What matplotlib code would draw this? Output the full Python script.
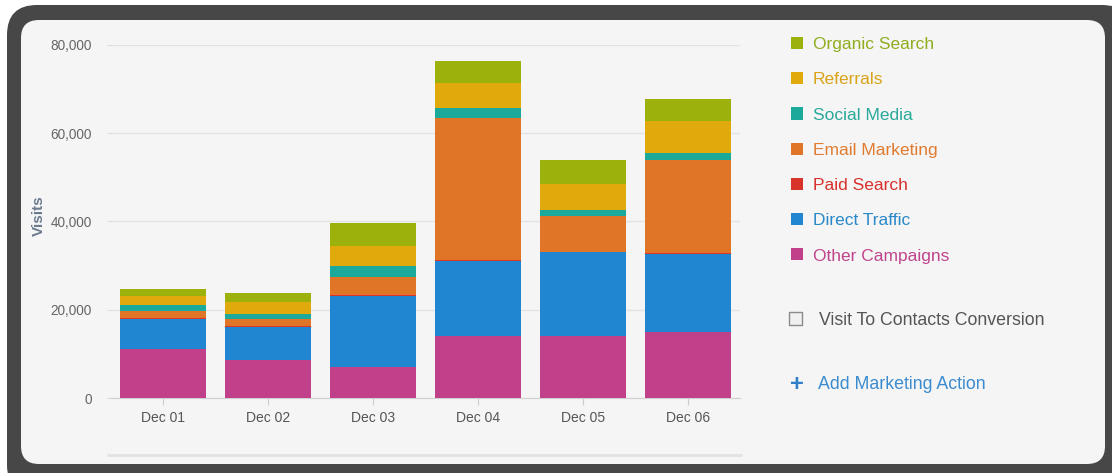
import numpy as np
import matplotlib.pyplot as plt
from matplotlib.patches import FancyBboxPatch, Rectangle

plt.rcParams['font.family'] = ['Liberation Sans', 'DejaVu Sans']

days = ['Dec 01', 'Dec 02', 'Dec 03', 'Dec 04', 'Dec 05', 'Dec 06']

# visits per channel, bottom to top of each stack
other_campaigns = [11000, 8500, 7000, 14000, 14000, 15000]
direct_traffic = [6900, 7600, 16200, 17100, 19000, 17600]
paid_search = [120, 120, 150, 180, 150, 150]
email_marketing = [1700, 1700, 4000, 32200, 8000, 21300]
social_media = [1250, 1200, 2600, 2200, 1450, 1500]
referrals = [2150, 2700, 4500, 5800, 6000, 7300]
organic_search = [1550, 1900, 5100, 4900, 5300, 4950]

series = [
    ('Other Campaigns', other_campaigns, '#c0418a', '#c0448c'),
    ('Direct Traffic', direct_traffic, '#2186d2', '#2a88c8'),
    ('Paid Search', paid_search, '#d8342a', '#d8302c'),
    ('Email Marketing', email_marketing, '#e07527', '#e07b30'),
    ('Social Media', social_media, '#1aa99a', '#2aa89a'),
    ('Referrals', referrals, '#e0a90c', '#d9a41a'),
    ('Organic Search', organic_search, '#9cb10b', '#8fae1f'),
]

W, H = 1112, 473
fig = plt.figure(figsize=(W / 100, H / 100), dpi=100)
fig.patch.set_facecolor('white')

# background / frame, drawn in pixel coordinates
bg = fig.add_axes([0, 0, 1, 1])
bg.set_xlim(0, W)
bg.set_ylim(H, 0)
bg.axis('off')
bg.add_patch(FancyBboxPatch((7, 5), 1125, 490, boxstyle='round,pad=0,rounding_size=30',
                            facecolor='#474747', edgecolor='none'))
bg.add_patch(FancyBboxPatch((21, 20), 1084, 444, boxstyle='round,pad=0,rounding_size=18',
                            facecolor='#f5f5f5', edgecolor='none'))
bg.plot([107, 742], [455, 455], color='#e2e2e2', lw=2, solid_capstyle='butt')

# checkbox and extra items
bg.add_patch(Rectangle((789, 312), 13, 13, facecolor='#f0f0f0', edgecolor='#8a8a8a', lw=1))
bg.text(819, 320, 'Visit To Contacts Conversion', color='#555555', fontsize=12.8, va='center')
bg.text(797, 384, '+', color='#2f80c8', fontsize=17, fontweight='bold', va='center', ha='center')
bg.text(818, 384, 'Add Marketing Action', color='#3b8bd0', fontsize=12.8, va='center')

ax = fig.add_axes([111 / W, (H - 398) / H, (740 - 111) / W, (398 - 45) / H])
ax.set_facecolor('none')

x = np.arange(len(days))
bottom = np.zeros(len(days))
handles = []
for name, vals, col, _ in series:
    b = ax.bar(x, vals, width=0.82, bottom=bottom, color=col, label=name, zorder=3)
    handles.append(b)
    bottom += np.array(vals)

ax.set_xlim(-0.5, 5.5)
ax.set_ylim(0, 80000)
ax.set_yticks([0, 20000, 40000, 60000, 80000])
ax.set_yticklabels(['0', '20,000', '40,000', '60,000', '80,000'])
ax.set_xticks(x)
ax.set_xticklabels(days)
ax.grid(axis='y', color='#e3e3e3', lw=1, zorder=0)
for s in ['top', 'right', 'left']:
    ax.spines[s].set_visible(False)
ax.spines['bottom'].set_color('#d0d0d0')
ax.tick_params(axis='y', length=3, color='#dddddd', labelcolor='#666666', labelsize=9.8, pad=11)
ax.tick_params(axis='x', length=5, color='#cccccc', labelcolor='#555555', labelsize=10, pad=4)
ax.set_ylabel('Visits', color='#6b7a8f', fontsize=11, fontweight='bold')
ax.yaxis.set_label_coords(-65 / (740 - 111), 0.516)

leg = ax.legend(handles[::-1], [s[0] for s in series][::-1],
                labelcolor=[s[3] for s in series][::-1],
                loc='upper left', bbox_to_anchor=(791 / W, 1 - 37 / H),
                bbox_transform=fig.transFigure, frameon=False, fontsize=12.5,
                handlelength=0.69, handleheight=0.69, handletextpad=0.57,
                labelspacing=1.16, borderpad=0, borderaxespad=0)

fig.savefig('out.png', dpi=100, facecolor=fig.get_facecolor())
